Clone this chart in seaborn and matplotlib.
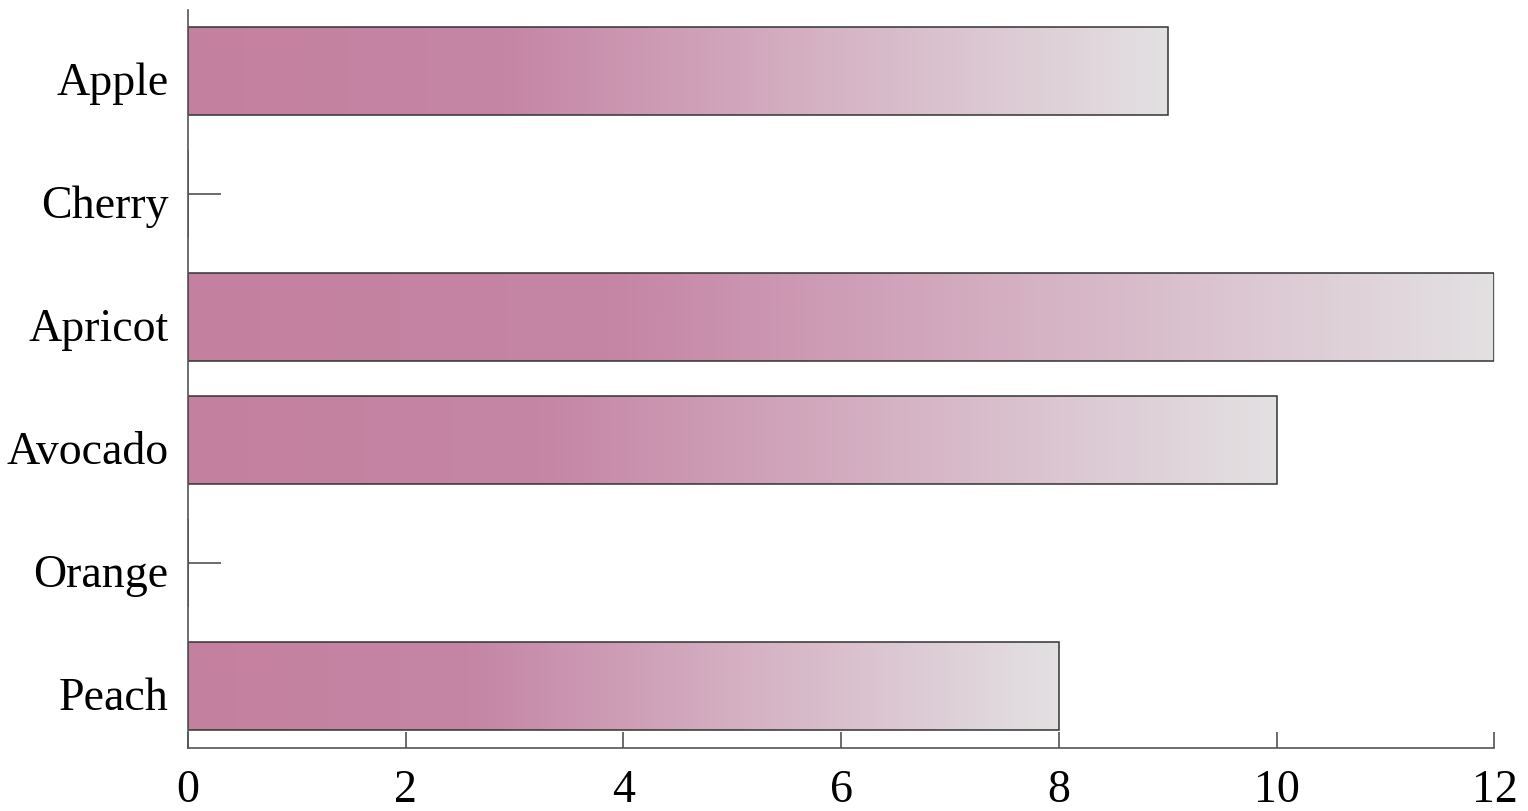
import numpy as np
import pandas as pd
import matplotlib
matplotlib.use("Agg")
import matplotlib.pyplot as plt
import matplotlib.transforms as mtransforms
from matplotlib.colors import LinearSegmentedColormap
import seaborn as sns

fruits = ["Apple", "Cherry", "Apricot", "Avocado", "Orange", "Peach"]
counts = [9, 0, 12, 10, 0, 8]

df = pd.DataFrame({"fruit": fruits, "count": counts})

sns.set_style("white")
plt.rcParams["font.family"] = ["Liberation Serif", "DejaVu Serif"]

# pink that fades to light grey along each bar
fade = LinearSegmentedColormap.from_list(
    "fade",
    [(0.0, "#c4819f"), (0.32, "#c585a5"), (0.65, "#d5b2c4"), (1.0, "#e3e0e2")],
)

fig = plt.figure(figsize=(15.28, 8.12), dpi=100)
ax = fig.add_axes([0.123, 0.078, 0.855, 0.909])

sns.barplot(data=df, x="count", y="fruit", orient="h", width=0.72,
            facecolor="none", edgecolor="#333333", linewidth=1.1, ax=ax)

grad = np.linspace(0, 1, 256).reshape(1, -1)
for bar in ax.patches:
    w = bar.get_width()
    if w <= 0:
        continue
    x0, y0 = bar.get_x(), bar.get_y()
    h = bar.get_height()
    im = ax.imshow(grad, cmap=fade, aspect="auto", interpolation="bicubic",
                   extent=[x0, x0 + w, y0 + h, y0], zorder=bar.get_zorder() - 0.1)
    im.set_clip_path(bar)

ax.set_xlim(0, 12)
ax.set_ylim(5.5, -0.5)
ax.set_xticks([0, 2, 4, 6, 8, 10, 12])
ax.set_xlabel("")
ax.set_ylabel("")

sns.despine(ax=ax)
for side in ["left", "bottom"]:
    ax.spines[side].set_color("#555555")
    ax.spines[side].set_linewidth(1.2)

ax.tick_params(axis="x", bottom=True, direction="in", length=11.5, width=1.1,
               color="#444444", labelsize=33, pad=15, labelcolor="black")
ax.tick_params(axis="y", left=True, direction="in", length=23.5, width=1.1,
               color="#444444", labelsize=33, pad=14, labelcolor="black")

# nudge the category names down a little
shift = mtransforms.ScaledTranslation(0, -7 / 100, fig.dpi_scale_trans)
for lbl in ax.get_yticklabels():
    lbl.set_transform(lbl.get_transform() + shift)

fig.savefig("out.png", dpi=100)
